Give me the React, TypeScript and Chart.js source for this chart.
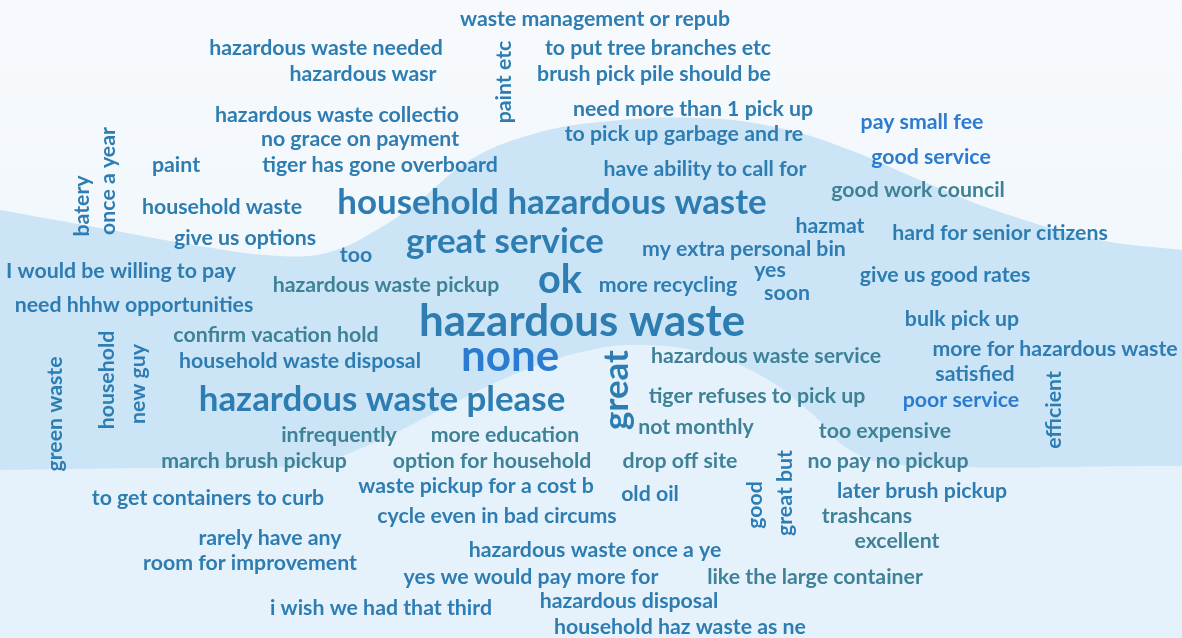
import React, { useEffect, useRef } from "react";
import { Chart, registerables } from "chart.js";

Chart.register(...registerables);

// ---- word cloud data ----
const words = [
  "waste management or repub", "hazardous waste needed", "to put tree branches etc", "paint etc",
  "hazardous wasr", "brush pick pile should be", "need more than 1 pick up", "hazardous waste collectio",
  "pay small fee", "to pick up garbage and re", "no grace on payment", "good service",
  "paint", "tiger has gone overboard", "have ability to call for", "good work council",
  "batery", "once a year", "household waste", "household hazardous waste",
  "hazmat", "hard for senior citizens", "give us options", "great service",
  "my extra personal bin", "too", "I would be willing to pay", "yes",
  "give us good rates", "hazardous waste pickup", "ok", "more recycling",
  "soon", "need hhhw opportunities", "bulk pick up", "hazardous waste",
  "confirm vacation hold", "household", "new guy", "green waste",
  "household waste disposal", "none", "hazardous waste service", "more for hazardous waste",
  "satisfied", "great", "hazardous waste please", "tiger refuses to pick up",
  "poor service", "efficient", "not monthly", "infrequently",
  "more education", "too expensive", "march brush pickup", "option for household",
  "drop off site", "great but", "good", "no pay no pickup",
  "waste pickup for a cost b", "old oil", "to get containers to curb", "later brush pickup",
  "cycle even in bad circums", "trashcans", "rarely have any", "excellent",
  "hazardous waste once a ye", "room for improvement", "yes we would pay more for", "like the large container",
  "i wish we had that third", "hazardous disposal", "household haz waste as ne",
];

const wordX = [
  595, 326, 658, 504, 363, 654, 693, 337, 922, 684, 360, 931, 176, 380, 705, 918,
  82, 108, 222, 552, 830, 1000, 245, 505, 744, 356, 121, 770, 945, 386, 560, 668,
  787, 134, 962, 582, 276, 107, 138, 55, 300, 510, 766, 1055, 975, 617, 382, 757,
  961, 1054, 696, 339, 505, 885, 254, 492, 680, 785, 755, 888, 476, 650, 208, 922,
  497, 867, 270, 897, 595, 250, 531, 815, 381, 629, 680,
];

const wordY = [
  19, 48, 48, 82, 74, 74, 109, 115, 122, 134, 139, 157, 165, 165, 169, 190,
  206, 181, 207, 203, 226, 233, 238, 242, 249, 255, 271, 270, 275, 285, 280, 285,
  293, 305, 319, 322, 335, 380, 384, 414, 361, 357, 356, 349, 374, 390, 400, 396,
  400, 410, 427, 435, 435, 431, 461, 461, 461, 493, 505, 461, 486, 494, 498, 491,
  516, 516, 538, 541, 550, 563, 577, 577, 608, 601, 627,
];

// mention counts (drive font size)
const counts = [
  1, 1, 1, 1, 1, 1, 1, 1, 1, 1, 1, 1, 1, 1, 1, 1,
  1, 1, 1, 3, 1, 1, 1, 3, 1, 1, 1, 1, 1, 1, 4, 1,
  1, 1, 1, 5, 1, 1, 1, 1, 1, 5, 1, 1, 1, 3, 3, 1,
  1, 1, 1, 1, 1, 1, 1, 1, 1, 1, 1, 1, 1, 1, 1, 1,
  1, 1, 1, 1, 1, 1, 1, 1, 1, 1, 1,
];

// 1 = written vertically
const vertical = [
  0, 0, 0, 1, 0, 0, 0, 0, 0, 0, 0, 0, 0, 0, 0, 0,
  1, 1, 0, 0, 0, 0, 0, 0, 0, 0, 0, 0, 0, 0, 0, 0,
  0, 0, 0, 0, 0, 1, 1, 1, 0, 0, 0, 0, 0, 1, 0, 0,
  0, 1, 0, 0, 0, 0, 0, 0, 0, 1, 1, 0, 0, 0, 0, 0,
  0, 0, 0, 0, 0, 0, 0, 0, 0, 0, 0,
];

// colour group: 0 steel blue, 1 bright blue, 2 muted teal
const tone = [
  0, 0, 0, 0, 0, 0, 0, 0, 1, 0, 0, 1, 0, 0, 0, 2,
  0, 0, 0, 0, 0, 0, 0, 0, 0, 0, 0, 0, 0, 2, 0, 0,
  0, 0, 0, 0, 2, 0, 0, 0, 0, 1, 2, 0, 0, 0, 0, 2,
  1, 0, 2, 2, 2, 2, 2, 2, 2, 0, 0, 2, 0, 0, 0, 0,
  0, 2, 0, 2, 0, 0, 0, 2, 0, 0, 0,
];

// background wave outlines
const waveTopX = [0, 100, 200, 280, 330, 380, 420, 470, 530, 600, 700, 780, 850, 920, 1000, 1100, 1182];
const waveTopY = [210, 228, 246, 256, 252, 228, 200, 160, 135, 122, 118, 128, 150, 180, 212, 240, 250];
const waveLowX = [0, 150, 250, 320, 380, 450, 520, 590, 640, 700, 760, 810, 850, 900, 1182];
const waveLowY = [470, 468, 468, 462, 440, 405, 372, 350, 345, 352, 375, 412, 450, 465, 466];

const TONES = ["#2e7db2", "#2b7cd0", "#3e8297"];
const FONT = "Lato, 'Open Sans', sans-serif";

function sizeFor(c: number) {
  return 21.3 * Math.pow(c, 0.45);
}

const wordPlugin = {
  id: "wordCloud",
  afterDatasetsDraw(chart: any) {
    const meta = chart.getDatasetMeta(0);
    const ctx = chart.ctx;
    ctx.save();
    meta.data.forEach((pt: any, i: number) => {
      ctx.save();
      ctx.translate(pt.x, pt.y);
      if (vertical[i]) ctx.rotate(-Math.PI / 2);
      ctx.font = `700 ${sizeFor(counts[i]).toFixed(1)}px ${FONT}`;
      ctx.fillStyle = TONES[tone[i]];
      ctx.textAlign = "center";
      ctx.textBaseline = "middle";
      ctx.fillText(words[i], 0, 0);
      ctx.restore();
    });
    ctx.restore();
  },
};

const bgPlugin = {
  id: "pageBg",
  beforeDraw(chart: any) {
    const { ctx, width, height } = chart;
    ctx.save();
    const g = ctx.createLinearGradient(0, 0, 0, height * 0.45);
    g.addColorStop(0, "#f7fafd");
    g.addColorStop(1, "#f1f7fc");
    ctx.fillStyle = g;
    ctx.fillRect(0, 0, width, height);
    ctx.restore();
  },
};

export default function App() {
  const ref = useRef<HTMLCanvasElement | null>(null);
  useEffect(() => {
    document.body.style.margin = "0";
    const canvas = ref.current!;
    const chart = new Chart(canvas, {
      type: "scatter",
      data: {
        datasets: [
          {
            label: "words",
            data: words.map((_, i) => ({ x: wordX[i], y: wordY[i] })),
            pointRadius: 0,
            showLine: false,
          },
          {
            label: "lower",
            data: waveLowX.map((x, i) => ({ x, y: waveLowY[i] })),
            showLine: true,
            pointRadius: 0,
            borderWidth: 0,
            borderColor: "rgba(0,0,0,0)",
            backgroundColor: "#e6f2fb",
            fill: "start",
            tension: 0.4,
          },
          {
            label: "band",
            data: waveTopX.map((x, i) => ({ x, y: waveTopY[i] })),
            showLine: true,
            pointRadius: 0,
            borderWidth: 0,
            borderColor: "rgba(0,0,0,0)",
            backgroundColor: "#cbe4f6",
            fill: "start",
            tension: 0.4,
          },
        ],
      },
      options: {
        responsive: false,
        animation: false,
        layout: { padding: 0 },
        events: [],
        scales: {
          x: { type: "linear", min: 0, max: 1182, display: false },
          y: { type: "linear", min: 0, max: 638, reverse: true, display: false },
        },
        plugins: {
          legend: { display: false },
          tooltip: { enabled: false },
        },
      },
      plugins: [bgPlugin, wordPlugin],
    });
    return () => chart.destroy();
  }, []);
  return (
    <div style={{ width: 1182, height: 638 }}>
      <canvas ref={ref} width={1182} height={638} />
    </div>
  );
}
